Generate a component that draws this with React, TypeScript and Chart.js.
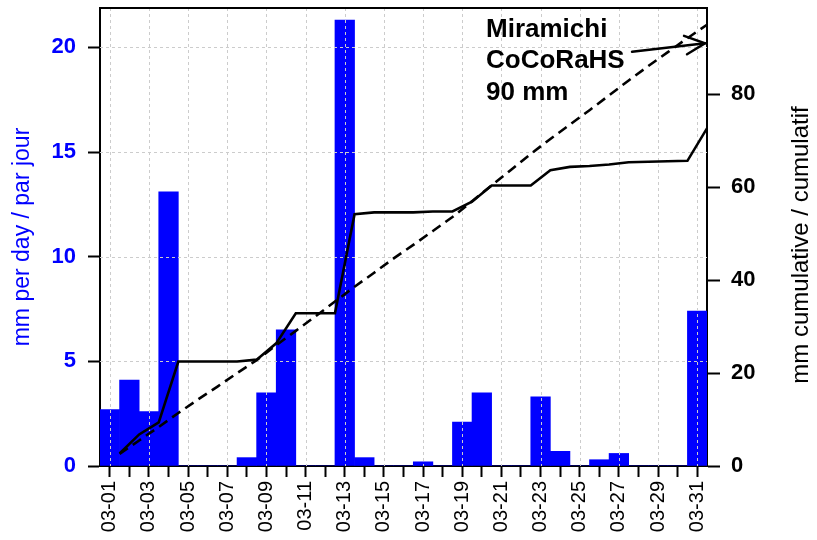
import React, { useEffect, useRef } from 'react';
import { Chart, registerables } from 'chart.js';

Chart.register(...registerables);

const categories = [
  '03-01', '03-02', '03-03', '03-04', '03-05', '03-06', '03-07', '03-08',
  '03-09', '03-10', '03-11', '03-12', '03-13', '03-14', '03-15', '03-16',
  '03-17', '03-18', '03-19', '03-20', '03-21', '03-22', '03-23', '03-24',
  '03-25', '03-26', '03-27', '03-28', '03-29', '03-30', '03-31',
];

const dailyPrecip = [
  2.7, 4.1, 2.6, 13.1, 0, 0, 0, 0.4, 3.5, 6.5, 0, 0, 21.3, 0.4, 0, 0,
  0.2, 0, 2.1, 3.5, 0, 0, 3.3, 0.7, 0, 0.3, 0.6, 0, 0, 0, 7.4,
];

const cumulativeObserved = [
  2.7, 6.8, 9.4, 22.5, 22.5, 22.5, 22.5, 22.9, 26.4, 32.9, 32.9, 32.9, 54.2, 54.6, 54.6, 54.6,
  54.8, 54.8, 56.9, 60.4, 60.4, 60.4, 63.7, 64.4, 64.6, 64.9, 65.4, 65.5, 65.6, 65.7, 72.7,
];

const cumulativeNormal = [
  2.6, 5.5, 8.4, 11.4, 14.3, 17.1, 20.0, 22.8, 26.0, 29.1, 32.2, 35.4, 38.6, 41.6, 44.7, 47.6,
  50.6, 53.6, 57.0, 60.4, 63.8, 67.2, 70.4, 73.5, 76.6, 79.8, 83.0, 86.1, 89.1, 92.1, 95.0,
];

const leftTicks = [0, 5, 10, 15, 20];
const rightTicks = [0, 20, 40, 60, 80];
const annotationLines = ['Miramichi', 'CoCoRaHS', '90 mm'];
const annotationArrowValue = 91;
const leftTitle = 'mm per day / par jour';
const rightTitle = 'mm cumulative / cumulatif';

const FONT = '"Liberation Sans", Arial, Helvetica, sans-serif';

const overlayPlugin = {
  id: 'overlay',
  afterDatasetDraw(chart: any, args: any) {
    if (args.index !== 0) return;
    const { ctx, chartArea } = chart;
    const xs = chart.scales.x;
    const ys = chart.scales.y;
    ctx.save();
    ctx.strokeStyle = '#cccccc';
    ctx.lineWidth = 1;
    ctx.setLineDash([3, 3]);
    xs.ticks.forEach((t: any) => {
      const i = Math.round(t.value) - 1;
      if (i % 2 !== 0) return;
      const px = Math.round(xs.getPixelForValue(t.value)) + 0.5;
      ctx.beginPath();
      ctx.moveTo(px, chartArea.top);
      ctx.lineTo(px, chartArea.bottom);
      ctx.stroke();
    });
    ys.ticks.forEach((t: any) => {
      if (t.value <= 0) return;
      const py = Math.round(ys.getPixelForValue(t.value)) + 0.5;
      ctx.beginPath();
      ctx.moveTo(chartArea.left, py);
      ctx.lineTo(chartArea.right, py);
      ctx.stroke();
    });
    ctx.restore();
  },
  afterDraw(chart: any) {
    const { ctx, chartArea } = chart;
    const xs = chart.scales.x;
    const y2 = chart.scales.y2;
    ctx.save();
    ctx.strokeStyle = '#000';
    ctx.lineWidth = 2;
    ctx.beginPath();
    ctx.moveTo(chartArea.left - 1, chartArea.top);
    ctx.lineTo(chartArea.right + 1, chartArea.top);
    ctx.stroke();

    ctx.fillStyle = '#000';
    ctx.font = `24px ${FONT}`;
    ctx.textAlign = 'center';
    ctx.textBaseline = 'middle';
    ctx.translate(801, (chartArea.top + chartArea.bottom) / 2 + 8);
    ctx.rotate(-Math.PI / 2);
    ctx.fillText(rightTitle, 0, 0);
    ctx.restore();

    ctx.save();
    const tipX = xs.getPixelForValue(31.4);
    const tipY = y2.getPixelForValue(annotationArrowValue);
    ctx.fillStyle = '#000';
    ctx.font = `bold 26px ${FONT}`;
    ctx.textAlign = 'left';
    ctx.textBaseline = 'alphabetic';
    annotationLines.forEach((line, k) => {
      ctx.fillText(line, tipX - 219, tipY - 6.7 + k * 31.5);
    });
    ctx.strokeStyle = '#000';
    ctx.lineWidth = 2.5;
    ctx.lineCap = 'round';
    ctx.beginPath();
    ctx.moveTo(tipX - 73, tipY + 8.5);
    ctx.lineTo(tipX, tipY);
    ctx.stroke();
    ctx.beginPath();
    ctx.moveTo(tipX - 21, tipY - 7.5);
    ctx.lineTo(tipX, tipY);
    ctx.lineTo(tipX - 18, tipY + 11);
    ctx.stroke();
    ctx.restore();
  },
};

export default function App() {
  const canvasRef = useRef<HTMLCanvasElement | null>(null);

  useEffect(() => {
    if (!canvasRef.current) return;
    Chart.defaults.font.family = FONT;

    const chart = new Chart(canvasRef.current, {
      data: {
        datasets: [
          {
            type: 'bar',
            data: categories.map((_, i) => ({ x: i + 1, y: dailyPrecip[i] })),
            backgroundColor: '#0000ff',
            borderWidth: 0,
            barPercentage: 1,
            categoryPercentage: 1,
            xAxisID: 'x',
            yAxisID: 'y',
            order: 3,
          },
          {
            type: 'line',
            data: categories.map((_, i) => ({ x: i + 1.5, y: cumulativeNormal[i] })),
            borderColor: '#000',
            borderWidth: 2.6,
            borderDash: [10, 6],
            pointRadius: 0,
            fill: false,
            tension: 0,
            xAxisID: 'x',
            yAxisID: 'y2',
            order: 2,
          },
          {
            type: 'line',
            data: categories.map((_, i) => ({ x: i + 1.5, y: cumulativeObserved[i] })),
            borderColor: '#000',
            borderWidth: 2.6,
            pointRadius: 0,
            fill: false,
            tension: 0,
            xAxisID: 'x',
            yAxisID: 'y2',
            order: 1,
          },
        ],
      } as any,
      options: {
        responsive: false,
        animation: false,
        events: [],
        layout: { padding: { top: 8, left: 0, right: 0, bottom: 0 } },
        plugins: {
          legend: { display: false },
          tooltip: { enabled: false },
        },
        scales: {
          x: {
            type: 'linear',
            position: 'bottom',
            offset: false,
            bounds: 'data',
            min: 0.5,
            max: 31.5,
            afterBuildTicks: (s: any) => {
              s.ticks = categories.map((_, i) => ({ value: i + 1 }));
            },
            afterFit: (s: any) => {
              s.height = 74;
              s.paddingLeft = 0;
              s.paddingRight = 0;
            },
            grid: {
              offset: false,
              drawOnChartArea: false,
              drawTicks: true,
              tickLength: 11,
              tickColor: '#000',
              tickWidth: 2,
              color: '#000',
            },
            border: { display: true, color: '#000', width: 2 },
            ticks: {
              autoSkip: false,
              minRotation: 90,
              maxRotation: 90,
              padding: 4,
              color: '#000',
              font: { size: 20 },
              callback: (value: any) => {
                const i = Math.round(Number(value)) - 1;
                return i % 2 === 0 ? categories[i] : '';
              },
            },
          },
          y: {
            type: 'linear',
            position: 'left',
            min: 0,
            max: 21.88,
            afterBuildTicks: (s: any) => {
              s.ticks = leftTicks.map((v) => ({ value: v }));
            },
            afterFit: (s: any) => {
              s.width = 100;
              s.paddingTop = 0;
              s.paddingBottom = 0;
            },
            grid: {
              drawOnChartArea: false,
              tickLength: 12,
              tickColor: '#000',
              tickWidth: 2,
            },
            border: { display: true, color: '#000', width: 2 },
            ticks: {
              color: '#0000ff',
              font: { size: 22, weight: 'bold' },
              padding: 12,
            },
            title: {
              display: true,
              text: leftTitle,
              color: '#0000ff',
              font: { size: 23 },
              padding: { top: 9, bottom: 0 },
            },
          },
          y2: {
            type: 'linear',
            position: 'right',
            min: 0,
            max: 98.6,
            afterBuildTicks: (s: any) => {
              s.ticks = rightTicks.map((v) => ({ value: v }));
            },
            afterFit: (s: any) => {
              s.width = 110;
              s.paddingTop = 0;
              s.paddingBottom = 0;
            },
            grid: {
              drawOnChartArea: false,
              tickLength: 13,
              tickColor: '#000',
              tickWidth: 2,
            },
            border: { display: true, color: '#000', width: 2 },
            ticks: {
              color: '#000',
              font: { size: 22, weight: 'bold' },
              padding: 11,
            },
          },
        },
      } as any,
      plugins: [overlayPlugin],
    });

    return () => chart.destroy();
  }, []);

  return (
    <div style={{ position: 'fixed', left: 0, top: 0, width: 817, height: 540, background: '#fff' }}>
      <canvas ref={canvasRef} width={817} height={540} style={{ display: 'block' }} />
    </div>
  );
}
